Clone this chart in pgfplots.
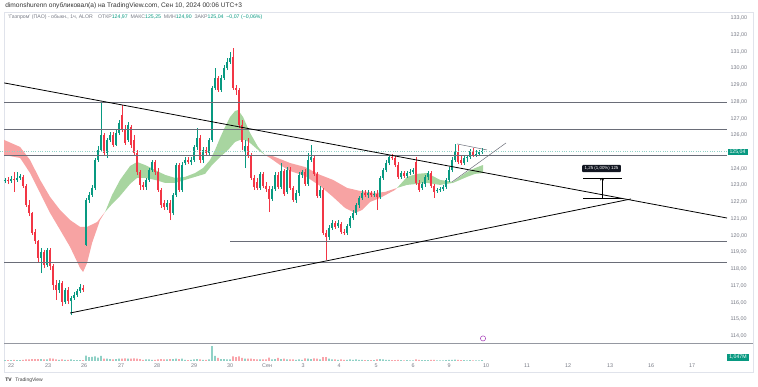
\documentclass[border=0pt]{standalone}
\usepackage{fontspec}
\setmainfont{Liberation Sans}
\usepackage{pgfplots}
\pgfplotsset{compat=1.18}
\usepackage{pgfplotstable}
\usetikzlibrary{arrows.meta}
\definecolor{upc}{HTML}{089981}
\definecolor{dnc}{HTML}{F23645}
\definecolor{tvgray}{HTML}{787B86}
\definecolor{ribred}{HTML}{F7A3A3}
\definecolor{ribgreen}{HTML}{A8D5A0}
\definecolor{hline}{HTML}{6A6D78}
\definecolor{framec}{HTML}{E0E3EB}
\definecolor{sepc}{HTML}{9598A1}
\definecolor{boxc}{HTML}{131722}
\definecolor{evc}{HTML}{9C27B0}

% rising candles: x (time position), open, high, low, close, volume (M)
\pgfplotstableread{
x o h l c v
5 123.27 123.45 123.15 123.33 1.0
11 123.27 123.57 123.15 123.39 1.2
17 123.33 123.80 123.21 123.45 1.0
20 123.45 123.69 123.33 123.57 1.2
41 118.66 119.26 117.76 119.02 2.5
47 118.24 119.26 118.12 119.14 2.0
59 116.75 117.35 116.57 117.17 1.5
65 116.03 116.87 115.91 116.75 1.5
71 116.09 116.39 115.25 116.27 2.0
74 116.27 116.63 116.15 116.45 1.2
77 116.45 116.81 116.33 116.69 1.0
80 116.69 117.11 116.57 116.93 1.2
86 119.44 122.25 119.38 122.13 7.0
89 122.13 122.61 121.95 122.43 5.0
92 122.43 123.03 122.31 122.85 5.5
95 122.85 124.64 122.73 124.52 6.0
98 124.52 125.36 124.40 125.12 4.5
101 125.12 127.93 125.00 126.02 6.5
107 124.94 125.84 124.64 125.72 3.0
110 125.72 126.20 125.60 126.02 2.5
116 125.42 126.32 125.36 126.14 2.5
119 126.14 126.91 126.02 126.73 3.0
128 125.72 126.79 125.60 126.62 3.0
146 122.91 123.45 122.73 123.33 2.0
149 123.33 124.04 123.21 123.92 2.0
152 123.92 124.52 123.80 124.40 1.5
167 121.71 122.13 121.53 121.95 2.0
173 121.35 122.55 121.23 122.43 2.5
176 122.43 124.34 122.31 124.22 3.0
182 122.73 124.40 122.61 124.22 3.0
185 124.34 124.70 124.22 124.52 1.5
191 124.40 124.70 124.22 124.52 1.5
194 124.52 125.42 124.40 125.30 2.0
197 125.30 126.44 125.12 125.84 2.5
203 124.52 125.30 124.34 125.12 1.5
209 124.94 125.84 124.82 125.72 2.0
212 125.72 128.95 125.60 128.83 19.5
215 128.83 130.02 128.71 129.43 6.5
221 128.71 129.61 128.59 129.43 2.5
224 129.43 130.20 129.31 130.02 2.5
227 130.02 130.62 129.90 130.38 2.0
230 130.38 130.98 130.26 130.62 2.0
245 125.00 125.72 124.04 125.36 3.0
260 122.85 123.80 122.73 123.69 2.0
272 122.19 122.97 122.07 122.79 2.0
275 122.79 123.80 122.67 123.63 2.5
281 122.91 124.34 122.79 123.86 2.5
287 122.61 124.10 122.49 123.92 2.0
296 122.13 122.73 121.95 122.55 1.5
299 122.55 123.80 122.37 123.63 2.0
302 123.63 123.92 123.45 123.80 1.5
308 123.09 124.94 122.97 124.52 3.0
311 124.52 125.42 124.40 124.70 2.5
320 122.37 122.97 122.25 122.73 2.0
329 119.92 120.63 119.74 120.46 3.0
332 120.46 120.93 120.34 120.75 2.0
338 120.57 120.93 120.46 120.75 1.5
347 120.16 120.69 120.04 120.57 1.5
350 120.57 121.17 120.46 121.05 2.0
353 121.05 121.53 120.93 121.35 1.5
356 121.35 121.95 121.23 121.83 2.0
359 121.83 122.37 121.65 122.25 1.5
362 122.25 122.73 122.13 122.55 1.5
368 122.43 122.73 122.25 122.55 1.0
374 122.43 122.67 122.31 122.49 1.0
380 122.31 123.57 122.19 123.45 2.5
383 123.45 124.04 123.33 123.92 2.0
386 123.92 124.52 123.80 124.34 1.5
389 124.34 124.82 124.22 124.70 1.5
401 123.51 123.86 123.39 123.74 1.0
407 123.57 123.86 123.45 123.74 1.0
410 123.74 123.98 123.63 123.80 0.8
413 123.80 124.04 123.69 123.92 0.8
422 122.85 123.21 122.73 123.09 1.2
425 123.09 123.63 122.91 123.51 1.2
428 123.51 123.86 123.33 123.74 1.0
437 122.67 122.85 122.55 122.73 0.8
440 122.73 122.91 122.61 122.79 0.8
443 122.79 123.03 122.67 122.91 0.8
446 122.91 123.45 122.79 123.33 1.2
449 123.33 124.10 123.21 123.92 1.5
452 123.92 124.70 123.80 124.52 1.5
455 124.52 125.48 124.40 125.00 1.8
464 124.34 124.76 124.22 124.64 1.0
467 124.64 124.82 124.40 124.70 0.8
470 124.70 125.18 124.58 125.06 1.0
476 124.82 125.12 124.70 124.88 0.8
479 124.88 125.12 124.76 124.99 0.8
482 124.97 125.25 124.90 125.04 1.047
}\upT

% falling candles
\pgfplotstableread{
x o h l c v
8 123.33 123.51 123.09 123.27 1.0
14 123.39 123.80 122.61 123.33 1.5
23 123.51 123.63 122.85 122.97 1.5
26 122.97 123.09 121.71 121.83 2.0
29 121.83 122.13 121.17 121.35 2.0
32 121.35 121.41 120.04 120.16 2.5
35 120.22 120.40 119.50 119.68 2.5
38 119.68 119.74 118.42 118.66 2.5
44 119.02 119.14 118.06 118.24 2.0
50 119.14 119.26 117.94 118.18 3.5
53 118.18 118.30 116.75 117.05 3.0
56 117.05 117.35 116.15 116.75 2.0
62 117.17 117.29 115.79 116.03 2.0
68 116.75 116.93 115.91 116.09 1.5
83 116.87 117.05 116.63 116.75 1.2
104 126.02 126.14 124.76 124.94 3.0
113 126.02 126.20 125.30 125.42 2.0
122 127.21 127.81 126.20 126.32 3.0
125 126.32 126.62 125.42 125.54 3.5
131 126.50 126.62 125.24 125.42 3.0
134 125.72 126.02 124.82 124.94 3.5
137 124.94 125.12 123.63 123.80 3.0
140 123.80 123.92 122.73 123.03 2.5
143 123.03 123.21 122.73 122.91 1.5
155 124.40 124.52 123.63 123.80 1.5
158 123.80 124.04 122.61 122.73 2.0
161 122.73 122.85 121.65 121.83 2.5
164 121.95 122.13 121.53 121.71 2.0
170 121.95 122.13 120.93 121.35 2.5
179 124.22 124.34 122.61 122.73 2.5
188 124.52 124.70 124.28 124.40 1.2
200 125.84 126.02 124.34 124.52 2.0
206 125.12 125.30 124.76 124.94 1.5
218 129.43 129.55 128.59 128.71 4.0
233 130.68 131.22 128.71 128.83 6.0
236 128.83 129.01 128.41 128.71 5.0
239 128.71 128.83 126.44 126.62 6.0
242 126.62 126.91 125.12 125.60 4.0
248 125.36 125.84 124.64 124.82 3.0
251 124.82 124.94 123.33 123.45 3.0
254 123.45 123.63 122.73 122.91 2.5
257 123.21 123.45 122.73 122.85 2.0
263 123.69 123.80 122.85 122.97 2.0
266 122.97 123.21 122.61 122.79 2.0
269 122.79 122.97 121.41 122.19 4.5
278 123.63 123.80 122.79 122.91 4.0
284 123.86 123.98 122.37 122.49 3.0
290 123.92 124.10 122.73 122.85 2.0
293 122.85 122.97 122.01 122.13 2.0
305 123.80 123.98 122.97 123.09 3.5
314 124.64 124.82 123.57 123.69 3.5
317 123.69 123.80 122.25 122.37 3.0
323 122.73 122.85 120.04 120.16 5.0
326 120.16 120.34 118.54 119.92 5.0
335 120.75 120.87 120.40 120.52 2.0
341 120.69 120.81 120.10 120.22 2.0
344 120.22 120.40 120.04 120.16 1.5
365 122.55 122.73 122.31 122.43 1.0
371 122.55 122.67 122.31 122.43 1.0
377 122.49 122.73 121.53 122.31 2.0
392 124.70 124.88 124.52 124.64 1.0
395 124.64 124.82 124.10 124.22 1.2
398 124.22 124.40 123.39 123.51 1.5
404 123.74 123.86 123.45 123.57 0.8
416 124.40 124.70 123.03 123.15 2.0
419 123.15 123.33 122.61 122.73 1.5
431 123.74 123.86 122.85 122.97 1.5
434 122.97 123.09 122.25 122.61 1.5
458 125.00 125.42 124.28 124.40 1.5
461 124.52 124.76 124.22 124.34 1.0
473 125.06 125.24 124.70 124.82 0.8
}\dnT

\pgfplotsset{
  wick/.style={draw=none, no marks, forget plot,
    error bars/.cd, y dir=plus, y explicit, error mark=none,
    error mark options={draw=none, fill=none, line width=0pt},
    error bar style={line width=0.55pt, line cap=butt, draw=#1}},
  body/.style={draw=none, no marks, forget plot,
    error bars/.cd, y dir=plus, y explicit, error mark=none,
    error mark options={draw=none, fill=none, line width=0pt},
    error bar style={line width=1.9pt, line cap=butt, draw=#1}},
}

\begin{document}
\begin{tikzpicture}[x=1pt,y=1pt]
\path (0,0) rectangle (758,387);
% frame
\draw[framec, line width=0.5pt] (4,15) rectangle (753,375);
\draw[sepc, line width=0.9pt] (4,43) -- (753,43);

\begin{axis}[
  at={(0pt,43pt)}, anchor=south west,
  width=727pt, height=332pt, scale only axis,
  xmin=0, xmax=727, ymin=113.52, ymax=133.37,
  axis line style={draw=none},
  major tick length=0pt,
  xtick=\empty,
  ytick={114,115,116,117,118,119,120,121,122,123,124,126,127,128,129,130,131,132,133},
  yticklabel pos=right,
  /pgf/number format/.cd, fixed, fixed zerofill, precision=2, use comma, assume math mode=true,
  /pgfplots/.cd,
  yticklabel style={font=\fontsize{5.4}{6}\selectfont, text=tvgray, anchor=west},
  clip=true,
]
% EMA ribbon
\addplot[fill=ribred, draw=none] coordinates {(4,125.72)(20,125.30)(30,124.52)(40,123.33)(50,122.31)(60,121.53)(70,120.93)(80,120.52)(87,120.52)(97,120.81)(105,121.41)(100,120.93)(92,119.56)(87,118.36)(83,117.82)(80,118.06)(70,119.32)(60,120.34)(50,121.35)(40,122.55)(30,123.74)(20,124.64)(4,124.82)} -- cycle;
\addplot[fill=ribgreen, draw=none] coordinates {(105,121.41)(112,122.43)(120,123.33)(130,124.16)(137,124.40)(145,124.22)(155,123.92)(165,123.63)(175,123.45)(185,123.51)(195,123.74)(203,124.04)(210,124.52)(215,125.12)(220,125.84)(225,126.50)(230,127.09)(235,127.45)(238,127.51)(243,127.09)(250,126.14)(258,125.30)(265,124.82)(258,125.12)(250,125.54)(245,125.72)(240,125.72)(235,125.60)(228,125.12)(220,124.70)(212,124.22)(205,123.69)(195,123.51)(185,123.33)(175,123.15)(165,123.15)(155,123.33)(145,123.45)(137,123.45)(130,123.09)(120,122.37)(112,121.89)} -- cycle;
\addplot[fill=ribred, draw=none] coordinates {(265,124.82)(270,124.82)(280,124.58)(290,124.34)(305,124.10)(320,123.63)(333,123.33)(347,122.85)(360,122.67)(375,122.55)(385,122.61)(397,122.85)(395,122.73)(380,122.25)(370,122.01)(362,121.53)(355,121.35)(345,121.65)(333,122.31)(320,122.97)(305,123.57)(290,123.86)(280,124.22)(270,124.64)} -- cycle;
\addplot[fill=ribgreen, draw=none] coordinates {(397,122.85)(407,123.51)(417,123.69)(427,123.74)(440,123.33)(453,123.21)(460,123.51)(467,123.80)(475,124.04)(483,124.22)(483,123.74)(475,123.69)(467,123.51)(460,123.33)(453,123.15)(440,123.03)(427,123.15)(417,123.09)(407,123.03)} -- cycle;

% candles
\addplot[wick=upc] table[x=x, y=l, y error expr=\thisrow{h}-\thisrow{l}] \upT;
\addplot[body=upc] table[x=x, y=o, y error expr=\thisrow{c}-\thisrow{o}] \upT;
\addplot[wick=dnc] table[x=x, y=l, y error expr=\thisrow{h}-\thisrow{l}] \dnT;
\addplot[body=dnc] table[x=x, y=c, y error expr=\thisrow{o}-\thisrow{c}] \dnT;

% current price line
\addplot[upc!45!white, dotted, line width=0.35pt] coordinates {(0,125.04)(727,125.04)};

% horizontal levels
\addplot[hline, line width=0.7pt] coordinates {(4,127.99)(727,127.99)};
\addplot[hline, line width=0.7pt] coordinates {(4,126.36)(727,126.36)};
\addplot[hline, line width=0.7pt] coordinates {(4,124.82)(727,124.82)};
\addplot[hline, line width=0.7pt] coordinates {(230,119.65)(727,119.65)};
\addplot[hline, line width=0.7pt] coordinates {(4,118.39)(727,118.39)};

% trend lines
\addplot[black, line width=0.8pt] coordinates {(4,129.13)(727,121.05)};
\addplot[black, line width=0.8pt] coordinates {(70,115.37)(631,122.19)};

% pennant
\addplot[hline, line width=0.5pt] coordinates {(457,125.48)(487,125.12)};
\addplot[hline, line width=0.5pt] coordinates {(452,123.21)(506,125.54)};

% price range tool
\addplot[black, line width=0.7pt] coordinates {(583,123.45)(622,123.45)};
\addplot[black, line width=0.7pt] coordinates {(583,122.22)(622,122.22)};
\addplot[black, line width=0.7pt, -{To[length=2.5pt,width=4pt]}] coordinates {(602,122.22)(602,123.45)};
\node[fill=boxc, text=white, rounded corners=1pt, inner xsep=2.5pt, inner ysep=1.6pt, font=\fontsize{4.4}{5}\selectfont] at (axis cs:601.5,124.01) {1,25 (1,00\%) 125};

% event marker
\addplot[only marks, mark=o, mark size=2.6pt, evc, line width=0.45pt] coordinates {(483,113.85)};
\end{axis}

% volume pane
\begin{axis}[
  at={(0pt,26pt)}, anchor=south west,
  width=727pt, height=16pt, scale only axis,
  xmin=0, xmax=727, ymin=0, ymax=21,
  axis line style={draw=none}, major tick length=0pt,
  ytick=\empty,
  xtick={11,48,84,121,157,194,230,267,303,339,376,413,449,486,527,568,610,651,692},
  xticklabels={22,23,26,27,28,29,30,Сен,3,4,5,6,9,10,11,12,13,16,17},
  xticklabel style={font=\fontsize{5.4}{6}\selectfont, text=tvgray, anchor=north, yshift=-2.5pt, inner sep=0pt},
  clip=false,
]
\addplot[ybar, bar width=1.8pt, bar shift=0pt, fill=upc!45!white, draw=none] table[x=x, y=v] \upT;
\addplot[ybar, bar width=1.8pt, bar shift=0pt, fill=dnc!45!white, draw=none] table[x=x, y=v] \dnT;
\end{axis}

% price and volume labels on the scale
\node[fill=upc, text=white, inner xsep=2pt, inner ysep=1pt, font=\fontsize{5.2}{6}\selectfont, minimum width=20pt] at (737.5,235) {125,04};
\node[fill=upc, text=white, inner xsep=2pt, inner ysep=1pt, font=\fontsize{5.2}{6}\selectfont, minimum width=21pt] at (738,29.5) {1,047M};

% header
\node[anchor=west, inner sep=0pt, font=\fontsize{6.6}{7}\selectfont, text=black!80] at (5,381) {dimonshurenn опубликовал(а) на TradingView.com, Сен 10, 2024 00:06 UTC+3};
\node[anchor=west, inner sep=0pt, font=\fontsize{5.2}{6}\selectfont, text=tvgray] at (8,370) {'Газпром' (ПАО) - обыкн., 1ч, ALOR\quad ОТКР\textcolor{upc}{124,97}\ \ МАКС\textcolor{upc}{125,25}\ \ МИН\textcolor{upc}{124,90}\ \ ЗАКР\textcolor{upc}{125,04}\ \ \textcolor{upc}{−0,07 (−0,06\%)}};

% footer logo
\node[anchor=west, inner sep=0pt, font=\fontsize{5}{6}\selectfont\bfseries, text=black!85] at (5,7) {TV};
\node[anchor=west, inner sep=0pt, font=\fontsize{5}{6}\selectfont, text=black!75] at (15,7) {TradingView};
\end{tikzpicture}
\end{document}
